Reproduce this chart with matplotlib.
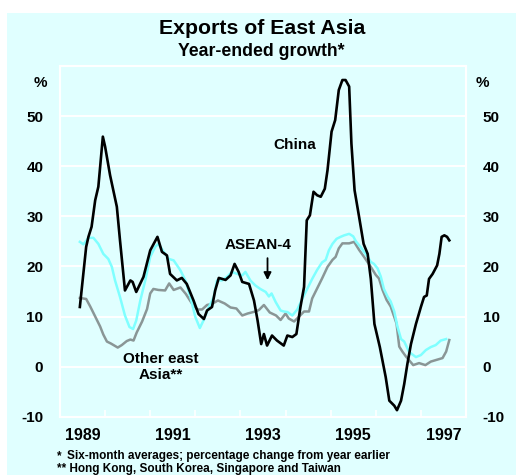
import matplotlib
matplotlib.use("Agg")
import matplotlib.pyplot as plt
from matplotlib.patches import Rectangle

plt.rcParams['font.family'] = ['Liberation Sans', 'DejaVu Sans']
plt.rcParams['font.weight'] = 'bold'

# ---- data (decimal year, % year-ended growth) ----
china = [(1989.44, 11.9), (1989.58, 23.9), (1989.63, 25.9), (1989.70, 27.9), (1989.78, 33.2), (1989.85, 35.9),
         (1989.95, 45.9), (1990.00, 43.9), (1990.11, 38.2), (1990.26, 31.9), (1990.33, 25.2), (1990.44, 15.2),
         (1990.56, 17.2), (1990.61, 16.9), (1990.69, 14.9), (1990.85, 17.9), (1991.00, 23.2), (1991.16, 25.9),
         (1991.26, 22.9), (1991.37, 22.2), (1991.44, 18.5), (1991.59, 17.2), (1991.70, 17.7), (1991.81, 16.5),
         (1991.96, 13.2), (1992.07, 10.5), (1992.19, 9.5), (1992.26, 11.2), (1992.37, 11.9), (1992.44, 15.2),
         (1992.52, 17.7), (1992.67, 17.3), (1992.78, 18.2), (1992.87, 20.5), (1992.96, 18.9), (1993.04, 16.9),
         (1993.19, 16.5), (1993.30, 13.2), (1993.38, 9.2), (1993.46, 4.5), (1993.52, 6.5), (1993.59, 4.2),
         (1993.70, 6.2), (1993.81, 5.2), (1993.96, 4.2), (1994.04, 6.2), (1994.15, 5.9), (1994.24, 6.5),
         (1994.33, 11.9), (1994.41, 15.9), (1994.47, 29.2), (1994.54, 30.2), (1994.62, 34.9), (1994.70, 34.2),
         (1994.78, 33.9), (1994.87, 35.5), (1994.93, 39.2), (1995.02, 46.9), (1995.10, 49.2), (1995.18, 55.2),
         (1995.26, 57.2), (1995.33, 57.2), (1995.41, 55.9), (1995.46, 44.5), (1995.53, 35.2), (1995.63, 29.9),
         (1995.73, 24.5), (1995.82, 22.5), (1995.89, 17.5), (1995.97, 8.5), (1996.09, 3.9), (1996.22, -2.1),
         (1996.30, -6.8), (1996.41, -7.8), (1996.47, -8.7), (1996.56, -6.8), (1996.63, -3.5), (1996.70, 0.5),
         (1996.78, 4.5), (1996.89, 8.5), (1997.00, 11.9), (1997.07, 13.9), (1997.13, 14.2), (1997.18, 17.5),
         (1997.26, 18.5), (1997.36, 20.2), (1997.41, 22.5), (1997.46, 25.9), (1997.52, 26.2), (1997.58, 25.9),
         (1997.63, 25.2)]

asean4 = [(1989.44, 24.9), (1989.52, 24.4), (1989.63, 25.7), (1989.74, 25.7), (1989.85, 24.5), (1989.96, 22.5),
          (1990.07, 21.5), (1990.15, 19.9), (1990.22, 17.2), (1990.33, 13.9), (1990.44, 10.2), (1990.54, 7.9),
          (1990.62, 7.5), (1990.69, 9.2), (1990.78, 13.2), (1990.89, 17.2), (1991.00, 21.9), (1991.11, 23.9),
          (1991.18, 24.5), (1991.30, 22.9), (1991.41, 21.5), (1991.52, 21.2), (1991.67, 19.2), (1991.78, 17.2),
          (1991.89, 13.9), (1992.00, 9.9), (1992.10, 7.7), (1992.18, 9.2), (1992.30, 11.9), (1992.41, 13.9),
          (1992.48, 17.2), (1992.59, 17.2), (1992.70, 17.9), (1992.81, 18.9), (1992.93, 18.5), (1993.04, 18.2),
          (1993.11, 18.9), (1993.22, 17.2), (1993.33, 16.2), (1993.44, 15.5), (1993.56, 14.9), (1993.63, 14.0),
          (1993.69, 14.6), (1993.78, 12.9), (1993.89, 11.2), (1993.96, 11.0), (1994.04, 10.9), (1994.15, 10.2),
          (1994.26, 11.4), (1994.37, 13.5), (1994.48, 15.5), (1994.59, 17.5), (1994.70, 19.3), (1994.81, 20.8),
          (1994.89, 21.3), (1994.96, 23.2), (1995.04, 24.5), (1995.13, 25.5), (1995.22, 25.9), (1995.30, 26.2),
          (1995.41, 26.5), (1995.50, 26.0), (1995.56, 25.0), (1995.67, 23.8), (1995.74, 22.9), (1995.82, 21.9),
          (1995.89, 20.9), (1995.96, 20.5), (1996.04, 19.6), (1996.11, 18.0), (1996.18, 15.5), (1996.26, 14.0),
          (1996.33, 13.0), (1996.41, 11.0), (1996.48, 8.0), (1996.56, 5.5), (1996.63, 5.0), (1996.74, 2.9),
          (1996.89, 1.9), (1997.00, 2.3), (1997.11, 3.3), (1997.22, 3.9), (1997.33, 4.3), (1997.44, 5.2),
          (1997.56, 5.5)]

other_east_asia = [(1989.44, 13.7), (1989.58, 13.5), (1989.67, 12.0), (1989.78, 10.0), (1989.89, 8.0),
                   (1989.96, 6.4), (1990.04, 5.0), (1990.13, 4.6), (1990.28, 3.8), (1990.37, 4.3), (1990.48, 5.1),
                   (1990.56, 5.4), (1990.63, 5.2), (1990.70, 6.8), (1990.82, 9.0), (1990.93, 11.5), (1991.00, 14.6),
                   (1991.07, 15.5), (1991.18, 15.3), (1991.33, 15.2), (1991.42, 16.6), (1991.52, 15.3),
                   (1991.67, 15.8), (1991.79, 14.5), (1991.91, 12.8), (1992.04, 11.4), (1992.15, 11.4),
                   (1992.26, 12.3), (1992.37, 12.5), (1992.50, 13.2), (1992.65, 12.6), (1992.78, 11.8),
                   (1992.91, 11.6), (1993.04, 10.2), (1993.16, 10.6), (1993.33, 11.0), (1993.41, 11.3),
                   (1993.52, 12.3), (1993.65, 10.8), (1993.79, 10.2), (1993.89, 9.3), (1994.00, 10.6),
                   (1994.07, 9.6), (1994.19, 9.0), (1994.30, 10.0), (1994.41, 11.0), (1994.52, 11.0),
                   (1994.59, 13.6), (1994.70, 15.6), (1994.81, 17.6), (1994.93, 19.9), (1995.04, 21.3),
                   (1995.11, 21.9), (1995.18, 23.6), (1995.26, 24.6), (1995.41, 24.6), (1995.52, 24.9),
                   (1995.63, 23.3), (1995.74, 21.9), (1995.89, 19.9), (1996.00, 18.3), (1996.07, 17.6),
                   (1996.15, 15.3), (1996.24, 13.3), (1996.33, 12.0), (1996.46, 8.6), (1996.52, 4.0),
                   (1996.59, 3.0), (1996.67, 2.0), (1996.83, 0.3), (1996.96, 0.7), (1997.10, 0.3),
                   (1997.22, 1.0), (1997.33, 1.3), (1997.48, 1.7), (1997.56, 3.0), (1997.63, 5.3)]

y_ticks = [-10, 0, 10, 20, 30, 40, 50]
year_labels = ["1989", "1991", "1993", "1995", "1997"]

# ---- figure ----
W, H = 516, 475
BG = '#E0FFFF'
fig = plt.figure(figsize=(W / 100, H / 100), dpi=100)
fig.patch.set_facecolor(BG)
# white margins at top and left of the picture
fig.patches.append(Rectangle((0, 1 - 13 / H), 1, 13 / H, transform=fig.transFigure,
                             facecolor='white', edgecolor='none', zorder=-5))
fig.patches.append(Rectangle((0, 0), 7 / W, 1, transform=fig.transFigure,
                             facecolor='white', edgecolor='none', zorder=-5))

def px(x, y):
    return x / W, 1 - y / H

L, R, T, B = 60, 466, 66, 416.7
ax = fig.add_axes([L / W, 1 - B / H, (R - L) / W, (B - T) / H])
ax.set_facecolor(BG)
ax.set_xlim(1989, 1998)
ax.set_ylim(-10, 60)

for s in ax.spines.values():
    s.set_color('white')
    s.set_linewidth(1.5)

for v in y_ticks[1:]:
    ax.axhline(v, color='white', lw=1.4, zorder=1)

def xy(series):
    return [p[0] for p in series], [p[1] for p in series]

x, y = xy(other_east_asia)
ax.plot(x, y, color='#8A9696', lw=1.8, zorder=3)
x, y = xy(asean4)
ax.plot(x, y, color='#7FFFFF', lw=1.8, zorder=3)
x, y = xy(china)
ax.plot(x, y, color='black', lw=1.9, zorder=4)

# x ticks: labels mid-year, tick marks at year boundaries
ax.set_xticks([int(s) + 0.5 for s in year_labels])
ax.set_xticklabels(year_labels, fontsize=11.5, fontweight='bold')
ax.tick_params(axis='x', which='major', length=0, pad=8)
ax.set_xticks(list(range(1990, 1998)), minor=True)
ax.tick_params(axis='x', which='minor', direction='in', length=5, width=1.2, color='white')

ax.set_yticks(y_ticks)
ax.set_yticklabels([str(v) for v in y_ticks], fontsize=11, fontweight='bold')
ax.tick_params(axis='y', which='both', length=0, pad=12, labelleft=True, labelright=True)

fig.text(*px(47, 83), '%', ha='right', va='center', fontsize=11, fontweight='bold')
fig.text(*px(476, 83), '%', ha='left', va='center', fontsize=11, fontweight='bold')

# titles
fig.text(*px(262, 29), 'Exports of East Asia', ha='center', va='center', fontsize=15.3, fontweight='bold')
fig.text(*px(261, 52), 'Year-ended growth*', ha='center', va='center', fontsize=12.7, fontweight='bold')

# series labels
ax.text(1994.2, 44.2, 'China', ha='center', va='center', fontsize=11, fontweight='bold')
ax.text(1993.38, 24.3, 'ASEAN-4', ha='center', va='center', fontsize=11, fontweight='bold')
ax.annotate('', xy=(1993.6, 16.7), xytext=(1993.6, 22.2),
            arrowprops=dict(arrowstyle='-|>', color='black', lw=1.3, mutation_scale=11))
ax.text(1991.24, -0.1, 'Other east\nAsia**', ha='center', va='center', fontsize=11,
        fontweight='bold', linespacing=1.15)

# footnotes
fig.text(*px(57, 459.5), '*', ha='left', va='baseline', fontsize=8.5, fontweight='bold')
fig.text(*px(67, 459.5), 'Six-month averages; percentage change from year earlier', ha='left', va='baseline',
         fontsize=8.5, fontweight='bold')
fig.text(*px(57, 472.3), '** Hong Kong, South Korea, Singapore and Taiwan', ha='left', va='baseline',
         fontsize=8.5, fontweight='bold')

fig.savefig('out.png', dpi=100, facecolor=fig.get_facecolor())
